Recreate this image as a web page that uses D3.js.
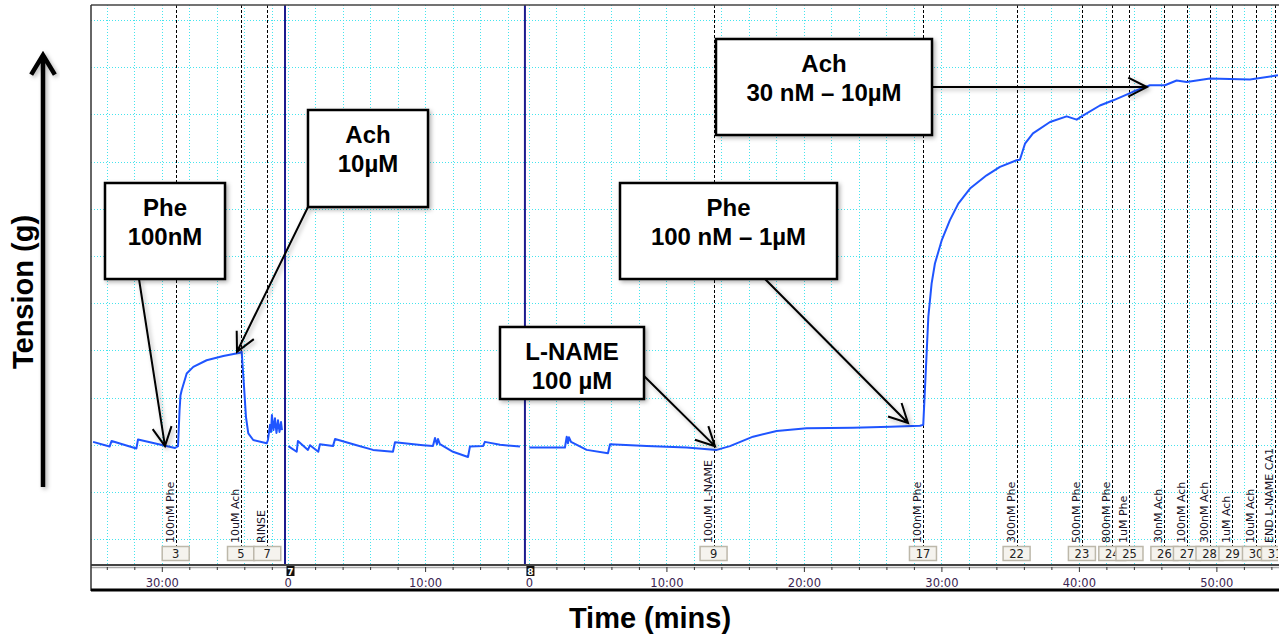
<!DOCTYPE html>
<html>
<head>
<meta charset="utf-8">
<script src="https://cdn.jsdelivr.net/npm/d3@7"></script>
<style>
  body { margin: 0; background: #fff; }
  svg { display: block; }
</style>
</head>
<body>
<div id="container"></div>
<script>
/* DATA */
// recording blocks: view minute where block time 0 falls, and where each block starts on screen
const blockIds = [6, 7, 8];
const blockOffsets = [-24.85, 14.3, 31.85];
const blockEdges = [0, 14.11, 31.56];
const viewMinutes = 86.55;

// trace per block: [block time (min), tension (grid divisions)]
const trace6 = [[25.0,2.06],[26.2,1.96],[26.35,2.08],[28.15,1.92],[28.27,2.11],[30.96,1.93],[31.18,1.97],
  [31.29,2.73],[31.36,3.05],[31.45,3.16],[31.81,3.51],[32.29,3.65],[33.26,3.79],[34.47,3.88],[35.69,3.95],
  [35.81,3.97],[35.98,3.23],[36.12,2.59],[36.29,2.24],[36.65,2.10],[37.63,2.03],[37.72,2.10],[37.87,2.42],
  [37.94,2.27],[38.01,2.63],[38.12,2.31],[38.23,2.56],[38.34,2.25],[38.45,2.52],[38.56,2.27],[38.67,2.48],[38.74,2.31]];
const trace7 = [[0.05,1.97],[0.66,1.85],[0.75,2.08],[1.48,1.89],[1.63,1.99],[2.23,1.85],[2.35,2.01],[3.3,1.97],
  [3.45,2.12],[5.02,1.99],[6.21,1.89],[7.66,1.85],[7.81,2.05],[9.85,1.99],[10.57,1.97],[10.72,2.14],[10.86,2.01],
  [10.94,2.12],[11.08,2.01],[12.03,1.85],[13.12,1.74],[13.26,1.96],[14.21,1.97],[14.35,2.06],[15.45,2.00],[16.9,1.96]];
const trace8 = [[0.03,1.94],[2.62,1.94],[2.75,2.17],[2.84,2.03],[2.91,2.16],[3.06,2.06],[4.2,1.89],[5.75,1.82],
  [5.9,2.01],[8.57,1.97],[11.47,1.94],[13.66,1.89],[14.62,1.97],[16.3,2.17],[18.02,2.29],[20.2,2.35],[23.57,2.36],
  [26.26,2.38],[28.44,2.40],[28.68,2.42],[28.88,3.65],[29.05,4.71],[29.29,5.42],[29.53,5.84],[30.02,6.33],
  [30.62,6.76],[31.23,7.11],[32.08,7.43],[33.29,7.71],[34.26,7.89],[35.47,8.03],[35.71,8.04],[36.08,8.38],
  [36.66,8.60],[37.9,8.84],[39.11,8.96],[39.84,8.89],[40.32,8.98],[41.53,9.19],[42.5,9.30],[43.93,9.48],
  [45.17,9.62],[46.26,9.62],[47.11,9.72],[47.84,9.69],[49.53,9.76],[52.44,9.74],[54.48,9.83]];
const traces = [trace6, trace7, trace8];

// comment events
const eventBlocks = [6, 6, 6, 8, 8, 8, 8, 8, 8, 8, 8, 8, 8, 8, 8];
const eventTimes = [31.01, 35.76, 37.67, 13.43, 28.66, 35.47, 40.22, 42.43, 43.68, 46.22, 47.86, 49.5, 51.17, 52.88, 54.26];
const eventNums = [3, 5, 7, 9, 17, 22, 23, 24, 25, 26, 27, 28, 29, 30, 31];
const eventLabels = ["100nM Phe", "10uM Ach", "RINSE", "100uM L-NAME", "100nM Phe", "300nM Phe", "500nM Phe",
  "800nM Phe", "1uM Phe", "30nM Ach", "100nM Ach", "300nM Ach", "1uM Ach", "10uM Ach", "END L-NAME CA1"];

// callouts: text and the trace point each one points at
const calloutText = [["Phe", "100nM"], ["Ach", "10µM"], ["L-NAME", "100 µM"], ["Phe", "100 nM – 1µM"], ["Ach", "30 nM – 10µM"]];
const calloutBlocks = [6, 6, 8, 8, 8];
const calloutTimes = [30.23, 35.47, 13.53, 27.57, 44.95];
const calloutValues = [1.97, 3.97, 1.97, 2.46, 9.58];

/* LAYOUT */
const W = 1279, H = 634;
const plot = { left: 91, right: 1281, top: 5, bottom: 565 };
const axisBottom = 590;
const boxes = [
  { x: 105, y: 183, w: 120, h: 96, tail: [139, 279] },
  { x: 308, y: 110, w: 120, h: 97, tail: [308, 207] },
  { x: 500, y: 327, w: 144, h: 72, tail: [644, 376] },
  { x: 620, y: 183, w: 217, h: 96, tail: [765, 279] },
  { x: 716, y: 39, w: 216, h: 96, tail: [932, 87] }
];

/* SCALES */
const xScale = d3.scaleLinear().domain([0, viewMinutes]).range([plot.left, plot.right]);
const yScale = d3.scaleLinear().domain([-0.55, 11.32]).range([plot.bottom, plot.top]);
const bi = b => blockIds.indexOf(b);
const bx = (b, t) => xScale(t + blockOffsets[bi(b)]);

const svg = d3.select("#container").append("svg")
  .attr("width", W).attr("height", H)
  .style("font-family", "'Liberation Sans', Arial, sans-serif");

const defs = svg.append("defs");
defs.append("clipPath").attr("id", "plotclip").append("rect")
  .attr("x", plot.left).attr("y", plot.top)
  .attr("width", plot.right - plot.left).attr("height", plot.bottom - plot.top);
defs.append("clipPath").attr("id", "pageclip").append("rect")
  .attr("x", 0).attr("y", 0).attr("width", W - 1).attr("height", H);
defs.append("filter").attr("id", "shadow")
  .attr("x", "-20%").attr("y", "-20%").attr("width", "140%").attr("height", "140%")
  .append("feDropShadow").attr("dx", 2).attr("dy", 2).attr("stdDeviation", 2)
  .attr("flood-color", "#000").attr("flood-opacity", 0.3);

const plotG = svg.append("g").attr("clip-path", "url(#plotclip)");

// block-local time ranges
const blockRanges = blockIds.map((b, i) => {
  const endG = i < blockIds.length - 1 ? blockEdges[i + 1] : viewMinutes;
  return [blockEdges[i] - blockOffsets[i], endG - blockOffsets[i]];
});

/* GRID */
const gridColor = "#45e4ee";
blockIds.forEach((b, i) => {
  const [lo, hi] = blockRanges[i];
  const ticks = d3.range(Math.ceil(lo / 2) * 2, hi, 2);
  plotG.selectAll(null).data(ticks).join("line")
    .attr("x1", d => Math.round(bx(b, d)) + 0.5).attr("x2", d => Math.round(bx(b, d)) + 0.5)
    .attr("y1", plot.top).attr("y2", plot.bottom)
    .attr("stroke", gridColor).attr("stroke-width", 1).attr("stroke-dasharray", "1,2");
});
plotG.selectAll(null).data(d3.range(0, 12)).join("line")
  .attr("x1", plot.left).attr("x2", plot.right)
  .attr("y1", d => Math.round(yScale(d)) + 0.5).attr("y2", d => Math.round(yScale(d)) + 0.5)
  .attr("stroke", gridColor).attr("stroke-width", 1).attr("stroke-dasharray", "1,2");

/* EVENT LINES */
const evG = plotG.append("g");
eventTimes.forEach((t, i) => {
  const ex = Math.round(bx(eventBlocks[i], t)) + 0.5;
  evG.append("line")
    .attr("x1", ex).attr("x2", ex).attr("y1", plot.top).attr("y2", 546)
    .attr("stroke", "#000").attr("stroke-width", 1).attr("stroke-dasharray", "3,2");
  evG.append("text")
    .attr("transform", `translate(${ex - 3},543) rotate(-90)`)
    .attr("font-family", "'DejaVu Sans', Tahoma, sans-serif")
    .attr("font-size", 11).attr("fill", "#1a1226")
    .text(eventLabels[i]);
});
const numG = svg.append("g").attr("clip-path", "url(#pageclip)");
eventTimes.forEach((t, i) => {
  const ex = bx(eventBlocks[i], t);
  numG.append("rect")
    .attr("x", ex - 13.5).attr("y", 546.5).attr("width", 27).attr("height", 14)
    .attr("fill", "#f5f3ee").attr("stroke", "#bdb8aa").attr("stroke-width", 1.5);
  numG.append("text")
    .attr("x", ex).attr("y", 558).attr("text-anchor", "middle")
    .attr("font-family", "'DejaVu Sans', Tahoma, sans-serif")
    .attr("font-size", 11.5).attr("fill", "#222")
    .text(eventNums[i]);
});

/* BLOCK BOUNDARIES */
blockIds.slice(1).forEach((b, k) => {
  const lx = xScale(blockEdges[k + 1]);
  svg.append("line")
    .attr("x1", lx).attr("x2", lx).attr("y1", plot.top).attr("y2", plot.bottom)
    .attr("stroke", "#1c1c8f").attr("stroke-width", 2);
});

/* TRACE */
const line = d3.line().x(d => d[0]).y(d => d[1]);
traces.forEach((tr, i) => {
  plotG.append("path")
    .attr("d", line(tr.map(d => [bx(blockIds[i], d[0]), yScale(d[1])])))
    .attr("fill", "none").attr("stroke", "#1f55ff").attr("stroke-width", 2)
    .attr("stroke-linejoin", "round");
});

/* TIME AXIS */
svg.append("line").attr("x1", plot.left).attr("x2", W).attr("y1", 565).attr("y2", 565)
  .attr("stroke", "#444").attr("stroke-width", 2);
svg.append("line").attr("x1", plot.left).attr("x2", W).attr("y1", 567.5).attr("y2", 567.5)
  .attr("stroke", "#aaa").attr("stroke-width", 1.5);
blockIds.forEach((b, i) => {
  const [lo, hi] = blockRanges[i];
  const endG = i < blockIds.length - 1 ? blockEdges[i + 1] : viewMinutes;
  const s = d3.scaleLinear().domain([lo, hi]).range([xScale(blockEdges[i]), xScale(endG)]);
  const ax = svg.append("g")
    .attr("transform", "translate(0,567)")
    .call(d3.axisBottom(s)
      .tickValues(d3.range(Math.ceil(lo / 2) * 2, hi, 2))
      .tickSize(3).tickPadding(9)
      .tickFormat(d => d % 10 === 0 ? (d === 0 ? "0" : d + ":00") : ""));
  ax.select(".domain").remove();
  ax.selectAll(".tick line").attr("stroke", "#333")
    .attr("y2", d => d % 10 === 0 ? 5 : 3);
  ax.selectAll(".tick text")
    .attr("font-family", "'DejaVu Sans', Tahoma, sans-serif")
    .attr("font-size", 11.5).attr("fill", "#3a2450");
});
// block number badges
blockIds.slice(1).forEach((b, k) => {
  const lx = xScale(blockEdges[k + 1]);
  svg.append("rect").attr("x", lx + 1.5).attr("y", 566).attr("width", 8).attr("height", 10).attr("fill", "#111");
  svg.append("text").attr("x", lx + 5.5).attr("y", 575).attr("text-anchor", "middle")
    .attr("font-family", "'DejaVu Sans', Tahoma, sans-serif").attr("font-weight", "bold")
    .attr("font-size", 9).attr("fill", "#fff").text(b);
});

/* FRAME */
svg.append("line").attr("x1", plot.left).attr("x2", W).attr("y1", plot.top).attr("y2", plot.top)
  .attr("stroke", "#444").attr("stroke-width", 1.5);
svg.append("line").attr("x1", plot.left).attr("x2", plot.left).attr("y1", plot.top).attr("y2", axisBottom + 1)
  .attr("stroke", "#333").attr("stroke-width", 1.5);
svg.append("line").attr("x1", plot.left).attr("x2", W).attr("y1", axisBottom).attr("y2", axisBottom)
  .attr("stroke", "#000").attr("stroke-width", 3);

/* ARROWS */
function arrow(g, x1, y1, x2, y2, sw, len, ang) {
  const a = Math.atan2(y1 - y2, x1 - x2);
  const r = ang * Math.PI / 180;
  g.append("path")
    .attr("d", `M${x1},${y1}L${x2},${y2}` +
      `M${x2 + len * Math.cos(a + r)},${y2 + len * Math.sin(a + r)}L${x2},${y2}` +
      `L${x2 + len * Math.cos(a - r)},${y2 + len * Math.sin(a - r)}`)
    .attr("fill", "none").attr("stroke", "#000").attr("stroke-width", sw)
    .attr("stroke-linejoin", "miter");
}

const annG = svg.append("g");
boxes.forEach((bx0, i) => {
  const tipX = bx(calloutBlocks[i], calloutTimes[i]);
  const tipY = yScale(calloutValues[i]);
  const g = annG.append("g").attr("filter", "url(#shadow)");
  arrow(g, bx0.tail[0], bx0.tail[1], tipX, tipY, 2, 21, 27);
});
boxes.forEach((b, i) => {
  const g = annG.append("g");
  g.append("rect").attr("x", b.x).attr("y", b.y).attr("width", b.w).attr("height", b.h)
    .attr("fill", "#fff").attr("stroke", "#000").attr("stroke-width", 2.5)
    .attr("filter", "url(#shadow)");
  calloutText[i].forEach((s, k) => {
    g.append("text")
      .attr("x", b.x + b.w / 2).attr("y", b.y + 33 + k * 29)
      .attr("text-anchor", "middle").attr("font-weight", "bold")
      .attr("font-size", 24).attr("fill", "#000").text(s);
  });
});

/* AXIS TITLES */
const yArrow = svg.append("g").attr("filter", "url(#shadow)");
arrow(yArrow, 43, 487, 43, 55, 4.5, 23, 31);
svg.append("text")
  .attr("transform", "translate(33,292) rotate(-90)")
  .attr("text-anchor", "middle").attr("font-weight", "bold").attr("font-size", 29)
  .text("Tension (g)");
svg.append("text")
  .attr("x", 650).attr("y", 628)
  .attr("text-anchor", "middle").attr("font-weight", "bold").attr("font-size", 29)
  .text("Time (mins)");
</script>
</body>
</html>
